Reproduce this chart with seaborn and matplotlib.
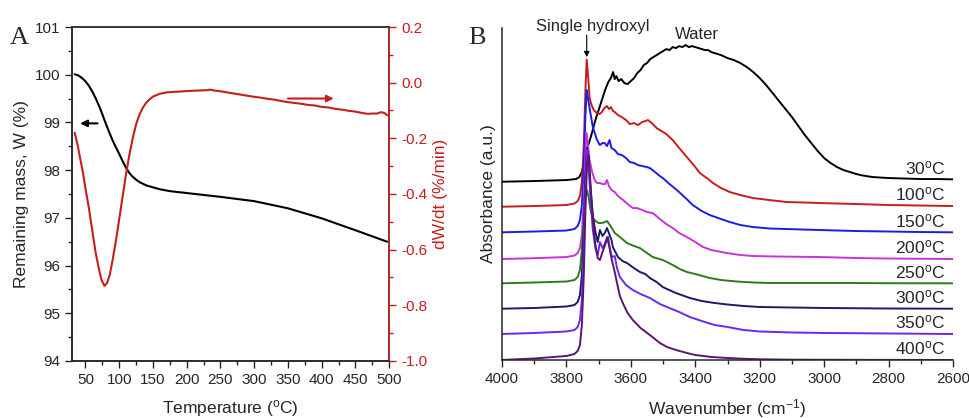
import numpy as np
import pandas as pd
import matplotlib
matplotlib.use("Agg")
import matplotlib.pyplot as plt
import seaborn as sns
from matplotlib.ticker import MultipleLocator

# panel A: TGA / DTG
temp_tga = [34, 40, 45, 50, 55, 60, 65, 70, 75, 80, 85, 90, 95, 100, 105, 110, 115, 120, 125, 130, 140, 150,
            160, 175, 200, 250, 300, 350, 400, 450, 497]
mass_tga = [100.01, 99.98, 99.93, 99.86, 99.77, 99.65, 99.51, 99.35, 99.17, 98.98, 98.8, 98.63, 98.48, 98.34,
            98.19, 98.05, 97.94, 97.86, 97.8, 97.75, 97.68, 97.64, 97.6, 97.56, 97.52, 97.44, 97.35, 97.2, 96.99,
            96.74, 96.5]

temp_dtg = [34, 38, 42, 46, 50, 55, 60, 65, 70, 74, 78, 82, 86, 90, 95, 100, 105, 110, 115, 120, 125, 130, 135,
            140, 145, 150, 160, 170, 180, 190, 200, 210, 220, 230, 235, 240, 250, 260, 270, 280, 290, 300, 310,
            320, 330, 340, 350, 360, 370, 380, 390, 400, 410, 420, 430, 440, 450, 460, 468, 475, 482, 488, 493, 497]
dtg = [-0.18, -0.22, -0.27, -0.32, -0.38, -0.45, -0.53, -0.61, -0.67, -0.71, -0.73, -0.72, -0.69, -0.64, -0.57,
       -0.49, -0.41, -0.33, -0.26, -0.20, -0.15, -0.115, -0.09, -0.072, -0.06, -0.05, -0.04, -0.035, -0.033,
       -0.032, -0.030, -0.029, -0.028, -0.027, -0.025, -0.028, -0.031, -0.035, -0.039, -0.043, -0.047, -0.051,
       -0.054, -0.058, -0.061, -0.066, -0.070, -0.073, -0.076, -0.080, -0.082, -0.087, -0.089, -0.094, -0.097,
       -0.101, -0.104, -0.109, -0.112, -0.111, -0.111, -0.106, -0.109, -0.117]

# panel B: FTIR spectra (absorbance in a.u., offset per temperature)
wn_30 = [4000, 3900, 3800, 3770, 3760, 3752, 3745, 3738, 3730, 3720, 3710, 3700, 3690, 3680, 3670, 3662, 3655,
         3650, 3645, 3638, 3630, 3620, 3610, 3600, 3590, 3580, 3570, 3560, 3550, 3540, 3530, 3520, 3510, 3500,
         3490, 3480, 3470, 3460, 3450, 3440, 3430, 3420, 3410, 3400, 3390, 3380, 3370, 3360, 3350, 3340, 3330,
         3320, 3300, 3280, 3260, 3250, 3240, 3220, 3200, 3180, 3160, 3140, 3120, 3100, 3080, 3060, 3040, 3020,
         3000, 2980, 2960, 2940, 2920, 2900, 2880, 2850, 2800, 2750, 2700, 2650, 2600]
abs_30 = [178.3, 179, 180, 181, 183, 188, 198, 210, 217, 228, 240, 250, 260, 270, 278, 282, 288, 281, 284, 279,
          281, 277, 276, 279, 282, 287, 290, 295, 297, 301, 303, 305, 307, 309, 311, 310, 313, 312, 314, 313, 315,
          313, 314, 313, 312, 311, 310, 310, 308, 307, 306, 305, 302, 300, 297, 295, 293, 288, 282, 275, 267, 259,
          251, 243, 234, 225, 217, 209, 202, 197, 193, 190, 188, 186, 184.5, 183, 182, 181.5, 181, 181, 180.7]

wn_100 = [4000, 3900, 3800, 3775, 3765, 3758, 3752, 3746, 3741, 3737, 3733, 3728, 3722, 3715, 3706, 3697, 3690,
          3682, 3674, 3668, 3662, 3655, 3650, 3640, 3628, 3615, 3603, 3590, 3578, 3565, 3555, 3547, 3535, 3520,
          3510, 3490, 3470, 3450, 3426, 3400, 3386, 3360, 3345, 3320, 3293, 3260, 3221, 3170, 3116, 3060, 3014,
          2900, 2800, 2700, 2600]
abs_100 = [153.3, 154, 155, 156.5, 159, 164, 178, 215, 270, 300.5, 285, 262, 255, 250, 247, 246, 248, 252, 254,
           251, 253, 249, 248, 245, 243, 240, 236, 237, 235, 238, 239, 240, 237, 232, 230, 226, 220, 212, 203, 193,
           187, 181, 177, 172, 168, 165, 162, 160, 158, 157.5, 157, 156, 155, 154.5, 154]

wn_150 = [4000, 3900, 3800, 3775, 3765, 3758, 3752, 3746, 3741, 3737, 3733, 3727, 3718, 3705, 3696, 3688, 3681,
          3674, 3666, 3660, 3650, 3640, 3628, 3615, 3603, 3590, 3578, 3565, 3550, 3541, 3525, 3510, 3501, 3480,
          3457, 3430, 3408, 3380, 3355, 3320, 3293, 3260, 3221, 3170, 3116, 3014, 2900, 2800, 2700, 2600]
abs_150 = [127.7, 128.5, 129.5, 131, 134, 140, 155, 195, 245, 270, 262, 250, 233, 220, 215, 217, 217, 214, 220,
           212, 210, 206, 205, 202, 198, 197, 195, 194, 193, 192, 188, 184, 182, 176, 170, 162, 155, 149, 145, 141,
           138, 135, 133, 131.5, 131, 130, 129, 128.5, 128, 127.7]

wn_200 = [4000, 3900, 3800, 3775, 3765, 3758, 3752, 3746, 3741, 3738, 3734, 3728, 3720, 3712, 3705, 3696, 3688,
          3680, 3674, 3668, 3660, 3650, 3640, 3624, 3610, 3594, 3581, 3565, 3550, 3532, 3510, 3490, 3470, 3450,
          3426, 3400, 3376, 3350, 3302, 3260, 3221, 3150, 3014, 2900, 2800, 2600]
abs_200 = [101, 101.8, 103, 104.5, 107, 112, 125, 160, 205, 227, 218, 200, 188, 180, 177, 177, 176, 176, 180, 174,
           170, 168, 164, 160, 156, 152, 152, 150, 148, 147, 141, 136, 132, 127, 123, 118, 113, 110, 107, 105, 104,
           103.5, 103, 102, 101.5, 101]

wn_250 = [4000, 3900, 3800, 3775, 3765, 3758, 3752, 3746, 3741, 3736, 3731, 3725, 3718, 3710, 3700, 3690, 3680,
          3674, 3665, 3650, 3634, 3612, 3590, 3572, 3550, 3532, 3501, 3488, 3470, 3448, 3426, 3400, 3355, 3320,
          3271, 3220, 3169, 3100, 3000, 2900, 2800, 2600]
abs_250 = [76.7, 77.5, 78.5, 80, 83, 90, 110, 140, 162, 170, 163, 150, 142, 139, 137, 137, 138, 139, 135, 127, 123,
           117, 114, 112, 107, 103, 100, 98, 95, 91, 88, 86, 82, 80, 78.5, 77.5, 77, 77, 77, 77, 76.8, 76.7]

wn_300 = [4000, 3900, 3800, 3775, 3765, 3758, 3752, 3746, 3741, 3736, 3731, 3725, 3718, 3710, 3703, 3696, 3688,
          3681, 3674, 3667, 3660, 3656, 3648, 3640, 3626, 3612, 3595, 3572, 3555, 3541, 3520, 3501, 3488, 3460,
          3417, 3380, 3340, 3300, 3250, 3200, 3100, 3000, 2800, 2600]
abs_300 = [51.3, 52, 53.5, 55, 58, 65, 85, 130, 185, 212, 200, 170, 145, 128, 118, 130, 124, 127, 132, 126, 120,
           113, 108, 103, 99, 97, 93, 88, 86, 82, 78, 73, 71, 67, 62, 59, 57, 55.5, 54, 53, 52.5, 52, 51.5, 51.3]

wn_350 = [4000, 3900, 3800, 3775, 3765, 3758, 3752, 3746, 3741, 3736, 3731, 3725, 3718, 3710, 3703, 3696, 3688,
          3681, 3674, 3667, 3659, 3650, 3643, 3634, 3615, 3594, 3570, 3541, 3510, 3488, 3450, 3417, 3380, 3340,
          3300, 3250, 3200, 3100, 3000, 2800, 2600]
abs_350 = [26, 27, 28.5, 30, 33, 40, 60, 110, 170, 210, 195, 160, 130, 112, 105, 118, 112, 116, 123, 114, 103, 104,
           92, 83, 75, 70, 66, 62, 56, 53, 48, 43, 39, 35, 33, 30, 28.5, 27.5, 27, 26.5, 26]

wn_400 = [4000, 3900, 3800, 3775, 3765, 3758, 3752, 3746, 3741, 3736, 3731, 3725, 3718, 3710, 3703, 3696, 3688,
          3680, 3671, 3665, 3659, 3650, 3643, 3634, 3625, 3610, 3594, 3570, 3541, 3510, 3488, 3460, 3426, 3400,
          3350, 3300, 3250, 3200, 3100, 3000, 2800, 2600]
abs_400 = [0, 1.5, 4, 6, 9, 15, 35, 85, 150, 195, 205, 175, 140, 115, 102, 100, 108, 115, 123, 110, 100, 88, 77,
           64, 57, 47, 40, 32, 25, 17, 13, 10, 7, 5, 3, 2, 1.2, 0.7, 0.3, 0.2, 0.1, 0]

temps = ["30", "100", "150", "200", "250", "300", "350", "400"]
baselines = [180.7, 154, 127.7, 101, 76.7, 51.3, 26, 0]
colors = ["#000000", "#c41e1e", "#1c1ce6", "#c832dc", "#2f7a1e", "#1a1a6a", "#6a28f0", "#5a1670"]

sns.set_style("ticks")
plt.rcParams["font.family"] = ["Liberation Sans", "DejaVu Sans"]
plt.rcParams["axes.unicode_minus"] = False
plt.rcParams["mathtext.default"] = "regular"

red = "#c41e1e"
fig = plt.figure(figsize=(9.7, 4.18), dpi=100)

# ---- panel A
ax = fig.add_axes([0.0742, 0.1364, 0.327, 0.799])
ax2 = ax.twinx()
sns.lineplot(x=temp_tga, y=mass_tga, color="black", linewidth=1.5, ax=ax)
sns.lineplot(x=temp_dtg, y=dtg, color=red, linewidth=1.5, ax=ax2)

ax.set_xlim(30, 500)
ax.set_ylim(94, 101)
ax2.set_ylim(-1.0, 0.2)
ax.xaxis.set_major_locator(MultipleLocator(50))
ax.xaxis.set_minor_locator(MultipleLocator(25))
ax.yaxis.set_major_locator(MultipleLocator(1))
ax.yaxis.set_minor_locator(MultipleLocator(0.5))
ax2.yaxis.set_major_locator(MultipleLocator(0.2))
ax2.yaxis.set_minor_locator(MultipleLocator(0.1))
ax2.yaxis.set_major_formatter(matplotlib.ticker.FormatStrFormatter("%.1f"))

for a in (ax, ax2):
    a.tick_params(which="major", direction="out", length=5, width=1, labelsize=11)
    a.tick_params(which="minor", direction="out", length=3, width=1)
    for s in a.spines.values():
        s.set_visible(True)
        s.set_linewidth(1.1)
ax2.spines["right"].set_color(red)
ax2.tick_params(axis="y", which="both", colors=red)
ax2.spines["top"].set_color("#333333")

ax.set_xlabel("Temperature ($^{o}$C)", fontsize=12.5, labelpad=8)
ax.set_ylabel("Remaining mass, W (%)", fontsize=12.5)
ax2.set_ylabel("dW/dt (%/min)", fontsize=12.5, color=red)

ax.annotate("", xy=(38, 98.98), xytext=(72, 98.98),
            arrowprops=dict(arrowstyle="-|>", color="black", lw=1.5, mutation_scale=10))
ax2.annotate("", xy=(422, -0.057), xytext=(346, -0.057),
             arrowprops=dict(arrowstyle="-|>", color=red, lw=1.5, mutation_scale=10))

fig.text(0.010, 0.895, "A", family="Liberation Serif", fontsize=19)

# ---- panel B
bx = fig.add_axes([0.5175, 0.1388, 0.465, 0.794])
spectra = [(wn_30, abs_30), (wn_100, abs_100), (wn_150, abs_150), (wn_200, abs_200),
           (wn_250, abs_250), (wn_300, abs_300), (wn_350, abs_350), (wn_400, abs_400)]
for (w, a), c in zip(spectra, colors):
    sns.lineplot(x=w, y=a, color=c, linewidth=1.4, ax=bx)

for t, b in zip(temps, baselines):
    bx.text(2623, b + 2.5, t + "$^{o}$C", ha="right", va="bottom", fontsize=12.5)

bx.set_xlim(4000, 2600)
bx.set_ylim(0, 332)
bx.xaxis.set_major_locator(MultipleLocator(200))
bx.xaxis.set_minor_locator(MultipleLocator(100))
bx.set_yticks([])
bx.tick_params(which="major", direction="out", length=5, width=1, labelsize=11)
bx.tick_params(which="minor", direction="out", length=3, width=1)
sns.despine(ax=bx)
for s in ("left", "bottom"):
    bx.spines[s].set_linewidth(1.1)
bx.set_xlabel("Wavenumber (cm$^{-1}$)", fontsize=12.5, labelpad=8)
bx.set_ylabel("Absorbance (a.u.)", fontsize=12.5)

bx.annotate("", xy=(3737, 303), xytext=(3737, 325), annotation_clip=False,
            arrowprops=dict(arrowstyle="-|>", color="black", lw=0.8, mutation_scale=8, shrinkA=0, shrinkB=0))
bx.text(3719, 326, "Single hydroxyl", ha="center", va="bottom", fontsize=12, clip_on=False)
bx.text(3395, 318, "Water", ha="center", va="bottom", fontsize=12, clip_on=False)

fig.text(0.483, 0.895, "B", family="Liberation Serif", fontsize=19)

fig.savefig("out.png", dpi=100)
